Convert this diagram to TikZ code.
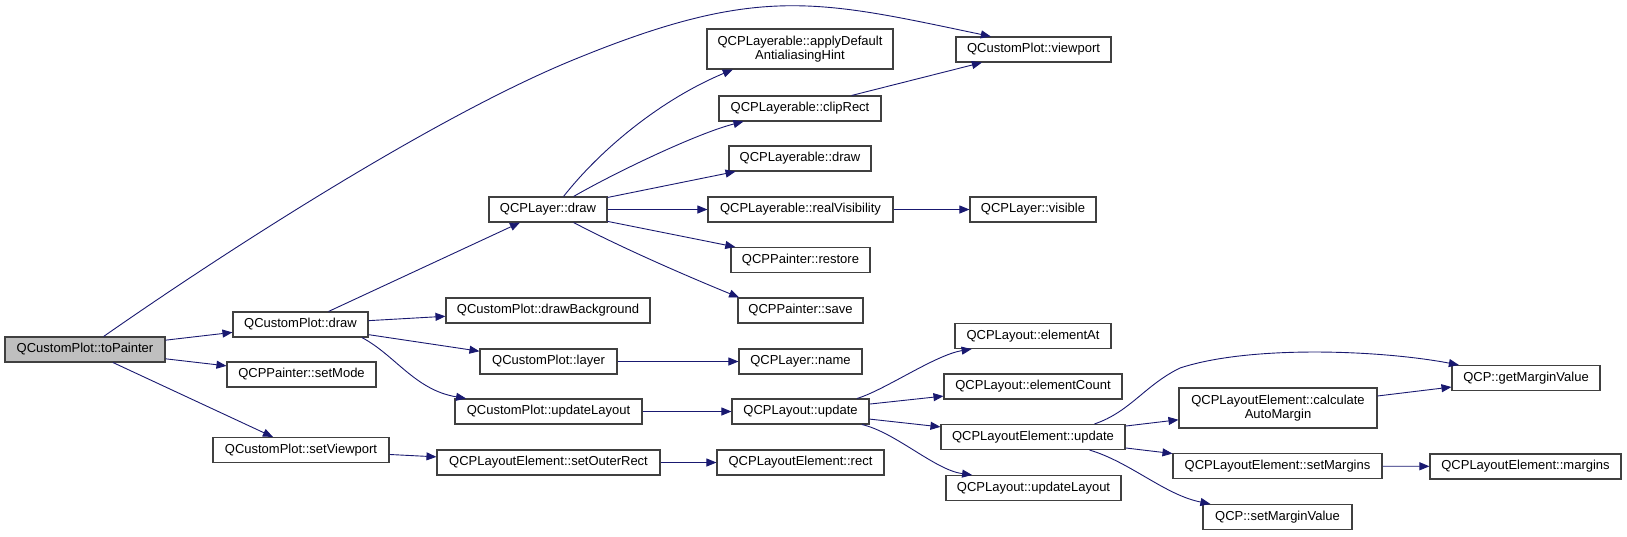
\documentclass[tikz,border=0pt]{standalone}
\usepackage{fontspec}
\setmainfont{Liberation Sans}
\usetikzlibrary{arrows.meta}
\definecolor{EdgeBlue}{RGB}{25,25,112}
\definecolor{BoxLine}{RGB}{64,64,64}
\definecolor{RootGray}{RGB}{191,191,191}

\begin{document}
\begin{tikzpicture}[x=1pt,y=-1pt,
    fn/.style={rectangle,draw=BoxLine,fill=white,line width=1.1pt,inner sep=0pt,
               minimum height=25pt,align=center,font=\fontsize{13}{14}\selectfont},
    fnroot/.style={fn,fill=RootGray},
    call/.style={-{Triangle[length=10pt,width=8pt]},EdgeBlue,line width=0.9pt}
  ]
  \useasboundingbox (0,0) rectangle (1627,536);
  % column 1 and 2
  \node[fnroot,minimum width=160] (tp) at (85,349.5) {QCustomPlot::toPainter};
  \node[fn,minimum width=135] (cpdraw) at (300.5,324.5) {QCustomPlot::draw};
  \node[fn,minimum width=149] (setmode) at (301.5,374.5) {QCPPainter::setMode};
  \node[fn,minimum width=176] (setvp) at (301,450) {QCustomPlot::setViewport};
  % column 3
  \node[fn,minimum width=118] (ldraw) at (548,209.5) {QCPLayer::draw};
  \node[fn,minimum width=204] (drawbg) at (548,310.5) {QCustomPlot::drawBackground};
  \node[fn,minimum width=137] (layer) at (548.5,361.5) {QCustomPlot::layer};
  \node[fn,minimum width=187] (cpupd) at (548.5,411.5) {QCustomPlot::updateLayout};
  \node[fn,minimum width=223] (outer) at (548.5,462.5) {QCPLayoutElement::setOuterRect};
  % column 4
  \node[fn,minimum width=186,minimum height=40] (aahint) at (800,49) {QCPLayerable::applyDefault\\AntialiasingHint};
  \node[fn,minimum width=162] (clip) at (800,108.5) {QCPLayerable::clipRect};
  \node[fn,minimum width=142] (lbdraw) at (800,158.5) {QCPLayerable::draw};
  \node[fn,minimum width=185] (realvis) at (800.5,209.5) {QCPLayerable::realVisibility};
  \node[fn,minimum width=139] (restore) at (800.5,260) {QCPPainter::restore};
  \node[fn,minimum width=125] (save) at (800.5,310.5) {QCPPainter::save};
  \node[fn,minimum width=123] (lname) at (800.5,361.5) {QCPLayer::name};
  \node[fn,minimum width=137] (lupd) at (800.5,411.5) {QCPLayout::update};
  \node[fn,minimum width=167] (rect) at (800.5,462.5) {QCPLayoutElement::rect};
  % column 5
  \node[fn,minimum width=155] (vp) at (1033.5,49.5) {QCustomPlot::viewport};
  \node[fn,minimum width=126] (visible) at (1033,209.5) {QCPLayer::visible};
  \node[fn,minimum width=156] (elat) at (1033,336) {QCPLayout::elementAt};
  \node[fn,minimum width=178] (elcnt) at (1033,386.5) {QCPLayout::elementCount};
  \node[fn,minimum width=184] (leupd) at (1033,437) {QCPLayoutElement::update};
  \node[fn,minimum width=175] (lupdl) at (1033.5,488) {QCPLayout::updateLayout};
  % column 6 and 7
  \node[fn,minimum width=198,minimum height=40] (calcam) at (1278,408) {QCPLayoutElement::calculate\\AutoMargin};
  \node[fn,minimum width=209] (setmarg) at (1277.5,466) {QCPLayoutElement::setMargins};
  \node[fn,minimum width=149] (setmv) at (1277.5,517) {QCP::setMarginValue};
  \node[fn,minimum width=148] (getmv) at (1526,378) {QCP::getMarginValue};
  \node[fn,minimum width=191] (margins) at (1525.5,466.5) {QCPLayoutElement::margins};

  % straight calls
  \draw[call] (tp) -- (cpdraw);
  \draw[call] (tp) -- (setmode);
  \draw[call] (tp) -- (setvp);
  \draw[call] (cpdraw) -- (ldraw);
  \draw[call] (cpdraw) -- (drawbg);
  \draw[call] (cpdraw) -- (layer);
  \draw[call] (setvp) -- (outer);
  \draw[call] (ldraw) -- (lbdraw);
  \draw[call] (ldraw) -- (realvis);
  \draw[call] (ldraw) -- (restore);
  \draw[call] (clip) -- (vp);
  \draw[call] (realvis) -- (visible);
  \draw[call] (layer) -- (lname);
  \draw[call] (cpupd) -- (lupd);
  \draw[call] (outer) -- (rect);
  \draw[call] (lupd) -- (elcnt);
  \draw[call] (lupd) -- (leupd);
  \draw[call] (leupd) -- (calcam);
  \draw[call] (leupd) -- (setmarg);
  \draw[call] (calcam) -- (getmv);
  \draw[call] (setmarg) -- (margins);

  % curved calls
  \draw[call] (tp.35) .. controls (226,251) and (434,117) .. (573,60)
    .. controls (758,-16) and (817,0) .. (vp.163);
  \draw[call] (cpdraw.348) .. controls (395,355) and (415,390) .. (cpupd.171);
  \draw[call] (ldraw.40) .. controls (600,150) and (660,100) .. (aahint.197);
  \draw[call] (ldraw.27) .. controls (616,172) and (698,133) .. (clip.193);
  \draw[call] (ldraw.333) .. controls (626,250) and (694,279) .. (save.168);
  \draw[call] (lupd.13) .. controls (885,390) and (935,355) .. (elat.192);
  \draw[call] (lupd.348) .. controls (895,432) and (935,470) .. (lupdl.168);
  \draw[call] (leupd.12) .. controls (1130,412) and (1145,385) .. (1180,368)
    .. controls (1250,345) and (1380,350) .. (getmv.169);
  \draw[call] (leupd.347) .. controls (1130,462) and (1165,495) .. (setmv.169);
\end{tikzpicture}
\end{document}
